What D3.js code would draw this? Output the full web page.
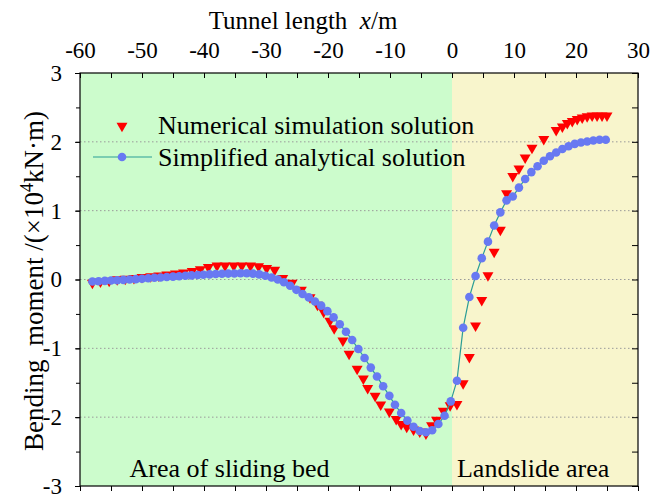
<!DOCTYPE html>
<html><head><meta charset="utf-8">
<script src="https://cdn.jsdelivr.net/npm/d3@7"></script>
<style>
html,body{margin:0;padding:0;background:#fff;}
text{font-family:"Liberation Serif","Times New Roman",serif;fill:#000;}
</style></head>
<body><svg id="c" width="664" height="495"></svg>
<script>
// ---- data ----
const xTicks = [-60,-50,-40,-30,-20,-10,0,10,20,30];
const yTicks = [-3,-2,-1,0,1,2,3];
const regions = [{name:"Area of sliding bed", from:-60, to:0}, {name:"Landslide area", from:0, to:30}];
const seriesNames = ["Numerical simulation solution","Simplified analytical solution"];

const analyticX = [-58.0,-57.0,-56.0,-55.0,-54.0,-53.0,-52.0,-51.0,-50.0,-49.0,-48.0,-47.0,-46.0,-45.0,-44.0,-43.0,-42.0,-41.0,-40.1,-39.1,-38.1,-37.1,-36.1,-35.1,-34.1,-33.1,-32.1,-31.1,-30.1,-29.1,-28.1,-27.1,-26.1,-25.1,-24.1,-23.1,-22.1,-21.1,-20.1,-19.1,-18.1,-17.1,-16.1,-15.1,-14.1,-13.1,-12.1,-11.1,-10.1,-9.2,-8.2,-7.2,-6.2,-5.2,-4.2,-3.2,-2.2,-1.2,-0.2,0.8,1.8,2.8,3.8,4.8,5.8,6.8,7.8,8.8,9.8,10.8,11.8,12.8,13.8,14.8,15.8,16.8,17.8,18.8,19.8,20.8,21.8,22.8,23.8,24.8];
const analyticY = [-0.03,-0.025,-0.02,-0.015,-0.01,-0.005,0.0,0.005,0.01,0.018,0.025,0.03,0.036,0.042,0.048,0.054,0.06,0.065,0.07,0.075,0.08,0.083,0.086,0.088,0.09,0.09,0.085,0.075,0.055,0.03,0.0,-0.04,-0.09,-0.15,-0.21,-0.26,-0.32,-0.38,-0.46,-0.55,-0.65,-0.76,-0.88,-1.01,-1.14,-1.28,-1.41,-1.55,-1.69,-1.82,-1.94,-2.05,-2.14,-2.2,-2.22,-2.19,-2.1,-1.98,-1.77,-1.47,-0.7,-0.255,0.05,0.31,0.55,0.785,0.975,1.15,1.205,1.335,1.46,1.56,1.645,1.725,1.79,1.845,1.895,1.935,1.97,1.99,2.005,2.02,2.03,2.03];

const numericX = [-58.0,-56.7,-55.3,-54.0,-52.7,-51.3,-50.0,-48.6,-47.3,-46.0,-44.6,-43.3,-41.9,-40.6,-39.3,-37.9,-36.6,-35.2,-33.9,-32.5,-31.2,-29.9,-28.6,-27.3,-25.8,-24.3,-22.9,-21.7,-20.7,-19.7,-19.0,-17.6,-16.6,-15.3,-14.3,-13.6,-12.4,-11.5,-10.1,-9.0,-8.2,-7.3,-6.2,-5.2,-4.2,-3.3,-2.5,-1.4,-0.3,0.8,1.8,2.8,3.8,4.8,5.8,6.8,7.8,8.8,9.8,10.8,11.8,12.9,14.8,16.8,17.8,18.6,19.4,20.2,21.0,21.8,22.6,23.4,24.2,25.0];
const numericY = [-0.05,-0.03,-0.02,0.0,0.01,0.02,0.035,0.045,0.055,0.07,0.085,0.1,0.12,0.145,0.18,0.2,0.2,0.2,0.2,0.2,0.19,0.165,0.14,0.02,-0.05,-0.15,-0.26,-0.37,-0.47,-0.6,-0.71,-0.89,-1.08,-1.3,-1.44,-1.58,-1.69,-1.82,-1.92,-2.03,-2.1,-2.14,-2.18,-2.21,-2.24,-2.12,-2.04,-1.91,-1.83,-1.81,-1.51,-1.13,-0.67,-0.3,0.06,0.4,0.72,1.25,1.5,1.61,1.77,1.91,2.04,2.17,2.22,2.27,2.3,2.33,2.35,2.37,2.38,2.38,2.38,2.38];

// ---- layout ----
const L=80, R=638, T=73, B=486;
const svg = d3.select("#c");
const x = d3.scaleLinear().domain([-60,30]).range([L,R]);
const y = d3.scaleLinear().domain([-3,3]).range([B,T]);

const regionColors = ["#ccfccc","#f8f5cc"];
svg.selectAll("rect.reg").data(regions).enter().append("rect")
  .attr("x",d=>x(d.from)).attr("y",T).attr("width",d=>x(d.to)-x(d.from)).attr("height",B-T)
  .attr("fill",(d,i)=>regionColors[i]);

// gridlines
svg.selectAll("line.grid").data(yTicks.filter(v=>v>-3&&v<3)).enter().append("line")
  .attr("x1",L).attr("x2",R).attr("y1",d=>y(d)).attr("y2",d=>y(d))
  .attr("stroke","#9a9a9a").attr("stroke-width",1).attr("stroke-dasharray","1.5,2.5");

// axes
const fmt = d => String(d);
const minorX = d3.range(-60,30.01,5);
const minorY = d3.range(-3,3.01,0.5);
function axisG(axis, tx, ty){ return svg.append("g").attr("transform",`translate(${tx},${ty})`).call(axis); }
const topAxis = axisG(d3.axisTop(x).tickValues(xTicks).tickFormat(fmt).tickSize(0).tickPadding(15),0,T);
topAxis.attr("font-family","Liberation Serif");
topAxis.select(".domain").remove();
topAxis.selectAll("text").attr("font-size",23).attr("font-family","Liberation Serif");
svg.append("g").attr("transform",`translate(0,${T})`).call(d3.axisBottom(x).tickValues(minorX).tickSize(5).tickFormat(""))
  .call(g=>g.select(".domain").remove());
svg.append("g").attr("transform",`translate(0,${B})`).call(d3.axisBottom(x).tickValues(minorX).tickSize(5).tickFormat(""))
  .call(g=>g.select(".domain").remove());
const leftAxis = axisG(d3.axisLeft(y).tickValues(yTicks).tickFormat(fmt).tickSize(5).tickPadding(13),L,0);
leftAxis.attr("font-family","Liberation Serif");
leftAxis.select(".domain").remove();
leftAxis.selectAll("text").attr("font-size",23).attr("font-family","Liberation Serif");
svg.append("g").attr("transform",`translate(${L},0)`).call(d3.axisLeft(y).tickValues(minorY).tickSize(4).tickFormat(""))
  .call(g=>g.select(".domain").remove());
svg.append("g").attr("transform",`translate(${R},0)`).call(d3.axisLeft(y).tickValues(minorY).tickSize(6).tickFormat(""))
  .call(g=>g.select(".domain").remove());
svg.selectAll(".tick line").attr("stroke","#000");

// frame
svg.append("rect").attr("x",L).attr("y",T).attr("width",R-L).attr("height",B-T)
  .attr("fill","none").attr("stroke","#000").attr("stroke-width",1.2);

// titles
svg.append("text").attr("x",303).attr("y",29).attr("text-anchor","middle").attr("font-size",25)
  .html('Tunnel length&#160; <tspan font-style="italic">x</tspan>/m');
svg.append("text").attr("transform","translate(43,281) rotate(-90)").attr("text-anchor","middle").attr("font-size",27)
  .html('Bending&#160; moment /(×10<tspan baseline-shift="super" font-size="18">4</tspan>kN·m)');

// region labels
svg.selectAll("text.reg").data(regions).enter().append("text")
  .attr("x",(d,i)=> i===0 ? x(-52) : x(0.8)).attr("y",477).attr("font-size",26).text(d=>d.name);

// series
const tri = d3.symbol().type(d3.symbolTriangle).size(52);
const numeric = numericX.map((v,i)=>[v,numericY[i]]);
const analytic = analyticX.map((v,i)=>[v,analyticY[i]]);
svg.append("g").selectAll("path").data(numeric).enter().append("path")
  .attr("d",tri).attr("transform",d=>`translate(${x(d[0])},${y(d[1])}) rotate(180)`).attr("fill","#ff0000");
svg.append("path").datum(analytic).attr("fill","none").attr("stroke","#2a9d95").attr("stroke-width",1.2)
  .attr("d",d3.line().x(d=>x(d[0])).y(d=>y(d[1])));
svg.append("g").selectAll("circle").data(analytic).enter().append("circle")
  .attr("cx",d=>x(d[0])).attr("cy",d=>y(d[1])).attr("r",4.3).attr("fill","#6879f2");

// legend
svg.append("path").attr("d",tri).attr("transform","translate(122,126) rotate(180)").attr("fill","#ff0000");
svg.append("line").attr("x1",93).attr("x2",152).attr("y1",157).attr("y2",157).attr("stroke","#2a9d95").attr("stroke-width",1.2);
svg.append("circle").attr("cx",122).attr("cy",157).attr("r",4.3).attr("fill","#6879f2");
svg.append("text").attr("x",158).attr("y",134).attr("font-size",26).text(seriesNames[0]);
svg.append("text").attr("x",158).attr("y",166).attr("font-size",26).text(seriesNames[1]);
</script></body></html>
